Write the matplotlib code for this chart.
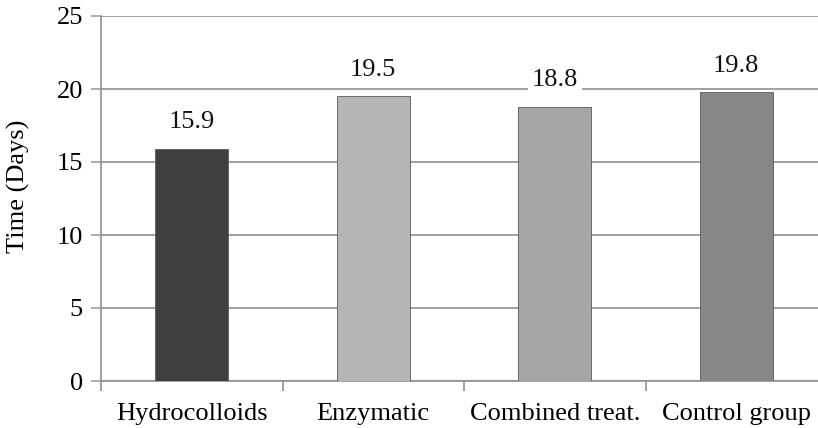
import matplotlib
matplotlib.use("Agg")
import matplotlib.pyplot as plt
import numpy as np

categories = ["Hydrocolloids", "Enzymatic", "Combined treat.", "Control group"]
values = [15.9, 19.5, 18.8, 19.8]
bar_colors = ["#404040", "#b5b5b5", "#a6a6a6", "#878787"]
y_ticks = [0, 5, 10, 15, 20, 25]

plt.rcParams["font.family"] = ["Liberation Serif", "DejaVu Serif"]

W, H = 818, 428
fig = plt.figure(figsize=(W / 100, H / 100), dpi=100)
left, right = 101, 827
bottom, top = 381, 16
ax = fig.add_axes([left / W, (H - bottom) / H, (right - left) / W, (bottom - top) / H])

x = np.arange(len(categories))
ax.bar(x, values, width=0.4, color=bar_colors, edgecolor="#5a5a5a", linewidth=0.6, zorder=3)

for xi, v in zip(x, values):
    ax.annotate(f"{v:.1f}", (xi, v), xytext=(0, 19), textcoords="offset points",
                ha="center", va="center", fontsize=19, color="#111111",
                bbox=dict(boxstyle="square,pad=0.15", fc="white", ec="none"), zorder=4)

ax.set_xlim(-0.5, len(categories) - 0.5)
ax.set_ylim(0, 25)
ax.set_yticks(y_ticks)
ax.set_yticklabels([str(t) for t in y_ticks], fontsize=19)
ax.yaxis.grid(True, color="#a0a0a0", linewidth=1.4, zorder=0)
ax.set_axisbelow(True)

ax.set_xticks(x)
ax.set_xticklabels(categories, fontsize=19)
ax.tick_params(axis="x", which="major", length=0, pad=16)
ax.set_xticks(np.arange(len(categories) + 1) - 0.5, minor=True)
ax.tick_params(axis="x", which="minor", length=7, width=1.2, color="#909090", direction="out")
ax.tick_params(axis="y", length=7, width=1.2, color="#a0a0a0", direction="out", pad=6)

for s in ["top", "right"]:
    ax.spines[s].set_visible(False)
for s in ["left", "bottom"]:
    ax.spines[s].set_color("#909090")
    ax.spines[s].set_linewidth(1.2)

ax.set_ylabel("Time (Days)", fontsize=19)
ax.yaxis.set_label_coords(-(101 - 30) / (right - left), (bottom - 186) / (bottom - top))

fig.savefig("out.png", dpi=100)
